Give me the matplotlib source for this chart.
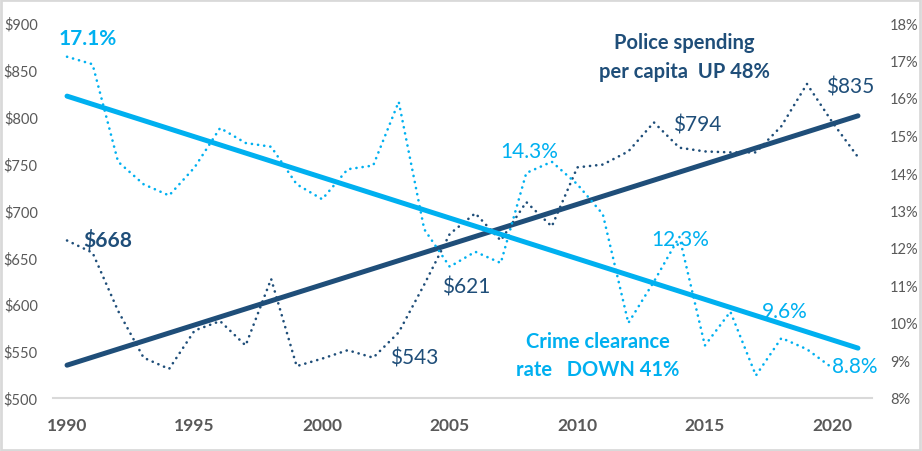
import matplotlib
matplotlib.use("Agg")
import matplotlib.pyplot as plt
from matplotlib.patches import Rectangle

plt.rcParams['font.family'] = ['Lato', 'DejaVu Sans']

years = list(range(1990, 2022))
police = [668, 655, 593, 543, 531, 572, 582, 556, 627, 534, 542, 551, 543, 570, 621, 675,
          697, 668, 709, 683, 746, 749, 763, 794, 767, 763, 762, 762, 790, 835, 794, 757]
clear_years = list(range(1990, 2021))
clearance = [17.1, 16.9, 14.3, 13.7, 13.4, 14.15, 15.2, 14.8, 14.7, 13.7, 13.3, 14.1, 14.2,
             15.9, 12.5, 11.5, 11.9, 11.6, 14.0, 14.3, 13.7, 12.9, 10.0, 11.1, 12.3, 9.4,
             10.3, 8.6, 9.6, 9.3, 8.8]
trend_years = [1990, 2021]
police_trend = [535, 801]
clear_trend = [16.05, 9.33]

DARK = '#1F4E79'
LIGHT = '#00B0F0'
GRAY = '#595959'

fig = plt.figure(figsize=(9.22, 4.52), dpi=100)
ax = fig.add_axes([53/922, 1-399/452, (872-53)/922, (399-24)/452])
ax2 = ax.twinx()

dot = (0, (0.05, 2.3))
ax.plot(years, police, color=DARK, lw=1.9, linestyle=dot, dash_capstyle='round')
ax.plot(trend_years, police_trend, color=DARK, lw=3.6, solid_capstyle='round', zorder=3)
ax2.plot(clear_years, clearance, color=LIGHT, lw=1.9, linestyle=dot, dash_capstyle='round')
ax2.plot(trend_years, clear_trend, color=LIGHT, lw=3.6, solid_capstyle='round', zorder=3)

ax.set_xlim(1989.45, 2021.55)
ax.set_ylim(500, 900)
ax2.set_ylim(8, 18)
ax.set_xticks(list(range(1990, 2021, 5)))
ax.set_yticks(list(range(500, 901, 50)))
ax.set_yticklabels([f'${v}' for v in range(500, 901, 50)])
ax2.set_yticks(list(range(8, 19)))
ax2.set_yticklabels([f'{v}%' for v in range(8, 19)])

for a in (ax, ax2):
    for s in a.spines.values():
        s.set_visible(False)
ax.spines['bottom'].set_visible(True)
ax.spines['bottom'].set_color('#D9D9D9')
ax.spines['bottom'].set_linewidth(1.5)

ax.tick_params(axis='x', length=0, pad=14, labelsize=12.5, labelcolor=GRAY)
for t in ax.get_xticklabels():
    t.set_fontweight('bold')
ax.tick_params(axis='y', length=0, pad=11, labelsize=10.5, labelcolor=GRAY)
ax2.tick_params(axis='y', length=0, pad=13, labelsize=10.5, labelcolor=GRAY)

def fig_text(x, y, s, color, size, weight='normal', ha='left'):
    fig.text(x/922, 1-y/452, s, color=color, fontsize=size, fontweight=weight,
             ha=ha, va='center')

fig_text(59, 39, '17.1%', LIGHT, 15, 'bold')
fig_text(500, 152, '14.3%', LIGHT, 15)
fig_text(651, 240, '12.3%', LIGHT, 15)
fig_text(762, 312, '9.6%', LIGHT, 15)
fig_text(832, 367, '8.8%', LIGHT, 15)
fig_text(83, 241, '$668', DARK, 15, 'bold')
fig_text(390, 359, '$543', DARK, 15)
fig_text(442, 287, '$621', DARK, 15)
fig_text(673, 125, '$794', DARK, 15)
fig_text(826, 87, '$835', DARK, 15)
fig_text(684, 43, 'Police spending', DARK, 14.5, 'bold', 'center')
fig_text(684, 72, 'per capita  UP 48%', DARK, 14.5, 'bold', 'center')
fig_text(598, 342, 'Crime clearance', LIGHT, 14.5, 'bold', 'center')
fig_text(598, 370, 'rate   DOWN 41%', LIGHT, 14.5, 'bold', 'center')

fig.patches.append(Rectangle((0.001, 0.002), 0.997, 0.995, transform=fig.transFigure,
                             fill=False, edgecolor='#D9D9D9', lw=2))

fig.savefig('out.png', dpi=100)
